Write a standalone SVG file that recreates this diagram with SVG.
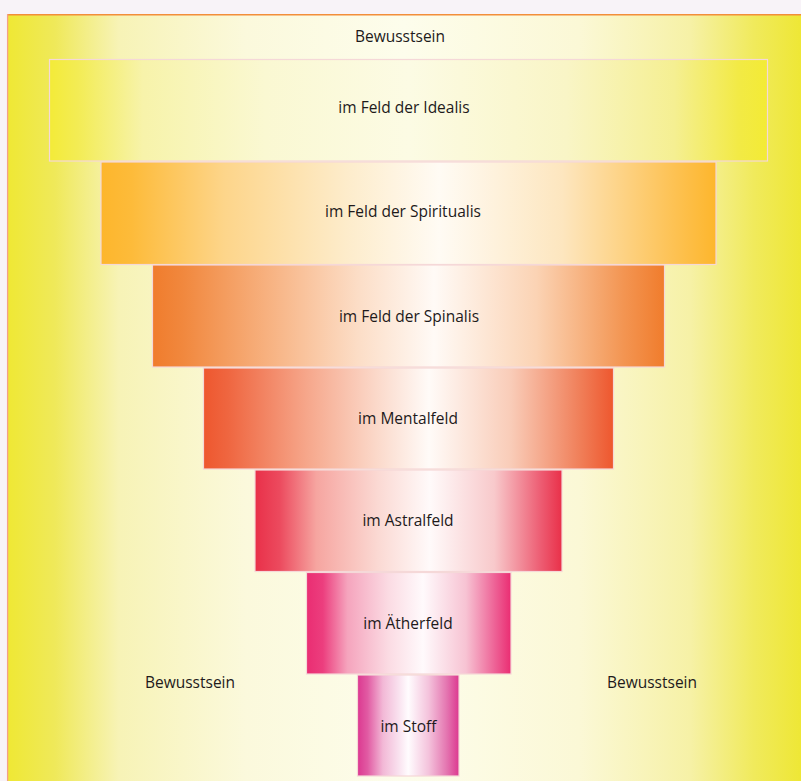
<svg xmlns="http://www.w3.org/2000/svg" width="801" height="781" viewBox="0 0 801 781">
<defs>
<linearGradient id="gBg" x1="0" y1="0" x2="1" y2="0">
<stop offset="0" stop-color="#efe834"/>
<stop offset="0.06" stop-color="#efe95a"/>
<stop offset="0.14" stop-color="#f7f3b6"/>
<stop offset="0.3" stop-color="#fbf9dc"/>
<stop offset="0.5" stop-color="#fdfdec"/>
<stop offset="0.72" stop-color="#fbf8d6"/>
<stop offset="0.86" stop-color="#f6f1a6"/>
<stop offset="0.94" stop-color="#f0ea5c"/>
<stop offset="1" stop-color="#eee735"/>
</linearGradient>
<linearGradient id="gIdealis" x1="0" y1="0" x2="1" y2="0">
<stop offset="0" stop-color="#f3eb38"/>
<stop offset="0.04" stop-color="#f3ec55"/>
<stop offset="0.13" stop-color="#f7f3aa"/>
<stop offset="0.3" stop-color="#faf8d2"/>
<stop offset="0.5" stop-color="#fcfbe4"/>
<stop offset="0.72" stop-color="#f9f5c6"/>
<stop offset="0.87" stop-color="#f5ef92"/>
<stop offset="0.96" stop-color="#f2ea45"/>
<stop offset="1" stop-color="#f3eb35"/>
</linearGradient>
<linearGradient id="gSpiritualis" x1="0" y1="0" x2="1" y2="0">
<stop offset="0" stop-color="#fdb62c"/>
<stop offset="0.05" stop-color="#fdbb3a"/>
<stop offset="0.2" stop-color="#fdd58a"/>
<stop offset="0.4" stop-color="#fdeccb"/>
<stop offset="0.55" stop-color="#fffbf4"/>
<stop offset="0.75" stop-color="#fde6bf"/>
<stop offset="0.92" stop-color="#fdc45a"/>
<stop offset="1" stop-color="#fdb62c"/>
</linearGradient>
<linearGradient id="gSpinalis" x1="0" y1="0" x2="1" y2="0">
<stop offset="0" stop-color="#f07c2c"/>
<stop offset="0.06" stop-color="#f1883e"/>
<stop offset="0.22" stop-color="#f7b07e"/>
<stop offset="0.4" stop-color="#fcddc6"/>
<stop offset="0.55" stop-color="#fffaf6"/>
<stop offset="0.75" stop-color="#fbd3b4"/>
<stop offset="0.92" stop-color="#f39552"/>
<stop offset="1" stop-color="#f07c2c"/>
</linearGradient>
<linearGradient id="gMental" x1="0" y1="0" x2="1" y2="0">
<stop offset="0" stop-color="#ee572e"/>
<stop offset="0.06" stop-color="#ef6640"/>
<stop offset="0.25" stop-color="#f6a68a"/>
<stop offset="0.42" stop-color="#fbd8c9"/>
<stop offset="0.55" stop-color="#fffbf8"/>
<stop offset="0.75" stop-color="#f9ccb8"/>
<stop offset="0.92" stop-color="#f07e58"/>
<stop offset="1" stop-color="#ee572e"/>
</linearGradient>
<linearGradient id="gAstral" x1="0" y1="0" x2="1" y2="0">
<stop offset="0" stop-color="#e93049"/>
<stop offset="0.08" stop-color="#ec4a5e"/>
<stop offset="0.2" stop-color="#f6a5a0"/>
<stop offset="0.4" stop-color="#fbd9d3"/>
<stop offset="0.57" stop-color="#fffafa"/>
<stop offset="0.78" stop-color="#f8c9cb"/>
<stop offset="0.93" stop-color="#ed5d73"/>
<stop offset="1" stop-color="#e93049"/>
</linearGradient>
<linearGradient id="gAether" x1="0" y1="0" x2="1" y2="0">
<stop offset="0" stop-color="#ea2d72"/>
<stop offset="0.08" stop-color="#ec3e7e"/>
<stop offset="0.2" stop-color="#f5a4bd"/>
<stop offset="0.4" stop-color="#fbdbe3"/>
<stop offset="0.57" stop-color="#fffafc"/>
<stop offset="0.78" stop-color="#f7c3d3"/>
<stop offset="0.93" stop-color="#ed5c92"/>
<stop offset="1" stop-color="#ea2d72"/>
</linearGradient>
<linearGradient id="gStoff" x1="0" y1="0" x2="1" y2="0">
<stop offset="0" stop-color="#dc3890"/>
<stop offset="0.1" stop-color="#e15ba3"/>
<stop offset="0.25" stop-color="#f2b8d6"/>
<stop offset="0.4" stop-color="#f9e0ee"/>
<stop offset="0.5" stop-color="#fffcfe"/>
<stop offset="0.7" stop-color="#f4c3dc"/>
<stop offset="0.88" stop-color="#e475b0"/>
<stop offset="1" stop-color="#dc3890"/>
</linearGradient>
</defs>
<style>
.lvl{stroke:#f5d8d8;stroke-width:1.2}
.t{font-family:"Open Sans","Noto Sans","Liberation Sans",sans-serif;font-size:15.5px;fill:#1e1a1b;text-anchor:middle}
</style>
<rect x="0" y="0" width="801" height="781" fill="#f8f3f8"/>
<g id="background">
<rect x="7.5" y="14" width="794" height="768" fill="url(#gBg)"/>
<line x1="7.5" y1="14.8" x2="801" y2="14.8" stroke="#f28e3a" stroke-width="1.6"/>
<line x1="7.6" y1="14" x2="7.6" y2="781" stroke="#f4a088" stroke-width="1.3"/>
<text class="t" x="400" y="42">Bewusstsein</text>
</g>
<g id="label-left"><text class="t" x="190" y="688">Bewusstsein</text></g>
<g id="label-right"><text class="t" x="652" y="688">Bewusstsein</text></g>
<g id="idealis">
<rect class="lvl" x="49.5" y="59.5" width="718" height="101.5" fill="url(#gIdealis)"/>
<text class="t" x="404" y="113">im Feld der Idealis</text>
</g>
<g id="spiritualis">
<rect class="lvl" x="101" y="162" width="615" height="102.5" fill="url(#gSpiritualis)"/>
<text class="t" x="403" y="217">im Feld der Spiritualis</text>
</g>
<g id="spinalis">
<rect class="lvl" x="152.5" y="265" width="512" height="102" fill="url(#gSpinalis)"/>
<text class="t" x="409" y="322">im Feld der Spinalis</text>
</g>
<g id="mentalfeld">
<rect class="lvl" x="203.5" y="368" width="410" height="101" fill="url(#gMental)"/>
<text class="t" x="408" y="424">im Mentalfeld</text>
</g>
<g id="astralfeld">
<rect class="lvl" x="255" y="470" width="307" height="101.5" fill="url(#gAstral)"/>
<text class="t" x="408" y="526">im Astralfeld</text>
</g>
<g id="aetherfeld">
<rect class="lvl" x="306.5" y="572.5" width="204.5" height="101.5" fill="url(#gAether)"/>
<text class="t" x="408" y="629">im Ätherfeld</text>
</g>
<g id="stoff">
<rect class="lvl" x="357.5" y="675" width="101.5" height="101" fill="url(#gStoff)"/>
<text class="t" x="408.5" y="732">im Stoff</text>
</g>
<g id="connectors"/>
</svg>
